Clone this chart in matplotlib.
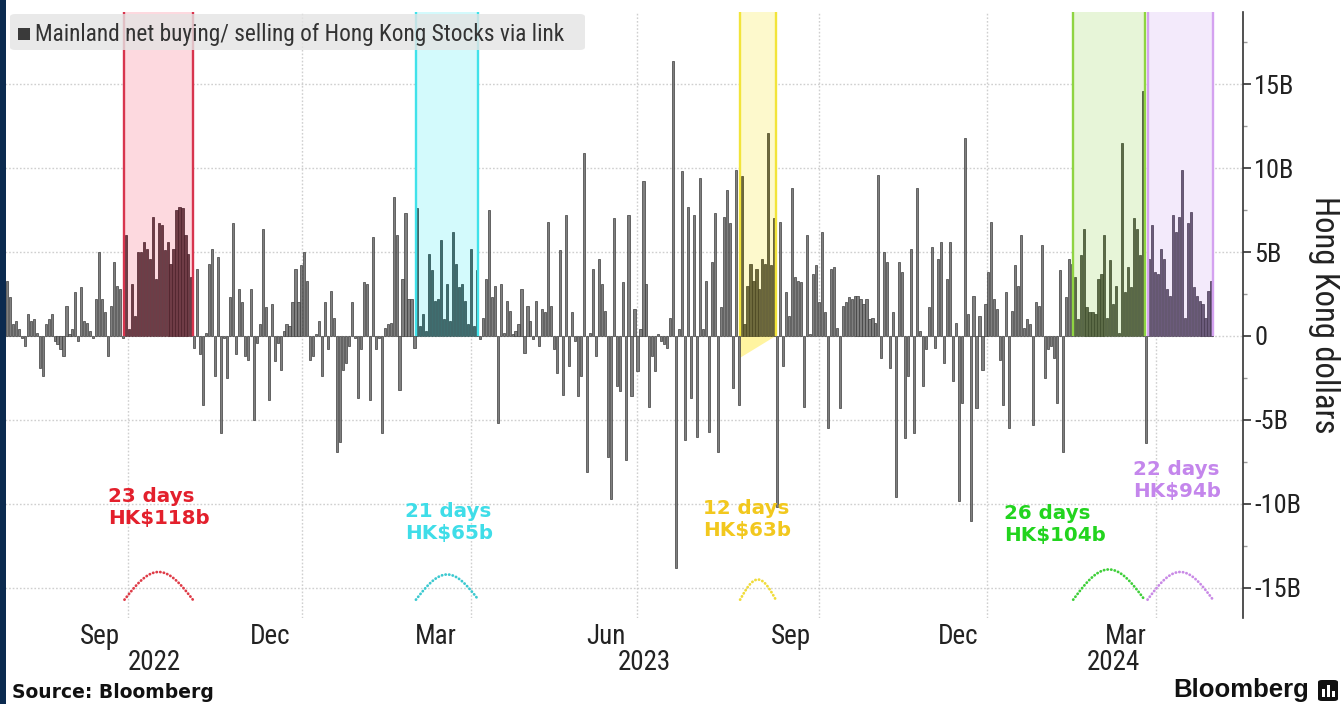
import numpy as np
import matplotlib
matplotlib.use('Agg')
import matplotlib.pyplot as plt
from matplotlib.patches import Rectangle, FancyBboxPatch, Polygon
from matplotlib import transforms

# ---------------- data (HK$ billions, daily net southbound flow) ----------------
seg_a = [3.3, 2.3, 0.7, 0.9, 0.4, -0.1, -0.6, 1.3, 0.9, 1.0, 0.2, -1.9, -2.4, 0.7, 1.0,
         1.3, -0.3, -0.5, -0.8, -1.2, 1.8, 0.1, 0.4, 2.6, -0.3, 2.9, 0.9, 0.8, 0.3, -0.1,
         2.2, 5.0, 2.2, 1.4, -1.2, 1.8, 4.4, 3.0, 2.8, -0.1]
streak_1 = [6.0, 0.4, 3.1, 1.2, 5.0, 5.0, 5.6, 5.2, 4.6, 7.1, 3.4, 6.7, 6.6, 5.1, 5.6,
            4.3, 5.2, 7.5, 7.7, 7.6, 6.0, 4.9, 3.5]
seg_b = [-0.7, 4.0, -1.1, -4.1, 0.2, 4.3, 5.2, -2.4, 4.7, -5.8, -0.1, -2.5, 2.3, 6.7, -1.1,
         2.8, 2.0, -1.2, -1.4, 2.8, -5.0, -0.4, 0.7, 6.4, 1.7, -3.8, 1.9, -1.5, -0.4, -2.0,
         0.3, 0.7, 0.6, 2.0, 4.0, 2.0, 4.2, 5.0, 3.3,
         -1.4, -1.2, 0.1, 0.9, -2.4, 2.0, -0.8, 2.7, 1.1, -6.9, -6.3, -2.0, -1.6, -0.6, 2.0,
         -0.1, -3.7, -0.8, 3.2, 3.1, -3.8, 5.9, -0.8, -0.1, -5.8, 0.5, 0.7, 0.8, 8.3, 6.0,
         -3.2, 3.4, 7.3, 2.2, 2.2, -0.7]
streak_2 = [7.6, 0.6, 1.3, 0.3, 4.9, 3.9, 2.1, 2.2, 5.7, 1.0, 3.1, 0.9, 6.2, 4.3, 2.9,
            3.1, 2.1, 0.7, 5.2, 0.6, 3.9]
seg_c = [-0.2, 1.1, 3.4, 7.5, 2.3, 3.0, -5.2, 3.1, 0.2, 2.1, 1.5, 0.1, 0.3, 0.7, 2.8, -1.0,
         1.8, 0.9, -0.2, 2.1, -0.6, 1.6, 1.4, 6.8, 1.8, -0.8, -2.2, 5.1, -3.5, 7.2, -1.8,
         1.4, -0.3, -3.6, -2.4, 10.9, -8.1, 0.2, 4.0, -1.2, 4.6, 3.1, 1.5, -7.2,
         -9.7, 7.0, -3.0, -3.3, 3.2, -7.4, 7.2, -3.6, 1.6, -2.1, 0.4, 9.2, 3.1, -4.2, -1.2,
         -2.1, 0.1, -0.3, -0.5, -0.7, 1.1, 16.4, -13.8, 0.4, 9.8, -6.2, 7.7, -3.7, 7.2, -6.0,
         9.4, 0.4, 3.3, -5.7, 4.4, 7.3, -6.9, 1.7, 7.1, 8.7, 6.7, -3.1, 9.9, -4.1]
streak_3 = [9.5, 0.7, 3.0, 4.3, 3.3, 4.0, 2.8, 4.6, 4.3, 12.1, 4.2, 7.0]
seg_d = [-10.2, 6.8, -1.8, 2.6, 1.2, 8.8, 3.5, 3.3, 3.2, -4.2, 6.0, 0.1, 3.7, 4.2, 2.0,
         6.2, 1.4, -5.5, 4.0, 4.1, 0.5, -4.3, 1.8, 2.0, 2.3, 2.2, 2.4, 2.4, 2.2, 1.9,
         2.2, 1.0, 1.1, 0.8, 9.6, -1.3, 5.0, 4.4, -1.9, 1.4, -9.6, 4.4, 3.8, -6.1, -2.4,
         5.2, -5.8, 8.8, 0.3, -3.0, -0.8, 1.7, 5.3, -0.7, 4.6, 5.6, -1.6, 3.4, 5.6, -2.7,
         0.8, -9.8, -4.0, 11.8, 1.3, -11.0, 2.4, -4.3, 1.2, -2.0, 1.9, 3.8, 6.8, 2.2, 1.6,
         -1.4, -4.1, 2.6, -5.5, 1.5, 4.2, 3.0, 6.0, 0.5, 1.0, 0.7, -5.3, 2.0, 1.8, 5.4,
         -2.5, -0.8, -0.6, -1.3, -4.0, 3.9, -6.9, 2.3, 4.6, 4.3]
streak_4 = [3.5, 1.0, 4.8, 6.4, 1.7, 1.4, 1.4, 1.3, 3.4, 3.7, 6.0, 1.1, 4.5, 1.9, 3.0,
            0.2, 11.5, 2.6, 4.1, 2.9, 7.0, 6.4, 4.8, 14.6]
seg_e = [-6.4]
streak_5 = [4.6, 6.6, 3.8, 3.7, 5.2, 4.6, 2.8, 2.4, 7.2, 6.2, 7.1, 9.9, 1.1, 6.7, 7.4,
            2.9, 2.4, 2.1, 1.9, 1.1, 2.7, 3.3]

streak_labels = ["23 days\nHK$118b", "21 days\nHK$65b", "12 days\nHK$63b",
                 "26 days\nHK$104b", "22 days\nHK$94b"]

# trading-day index of month label centres / quarter starts
month_labels = ["Sep", "Dec", "Mar", "Jun", "Sep", "Dec", "Mar"]
month_idx = [31.3, 88.4, 144.3, 201.4, 263.6, 319.8, 376.3]
year_labels = ["2022", "2023", "2024"]
year_idx = [49.4, 214.2, 371.9]
quarter_idx = [40.7, 99.2, 156.0, 211.8, 273.0, 329.5, 386.3]

y_ticks = [-15, -10, -5, 0, 5, 10, 15]
y_tick_labels = ["-15B", "-10B", "-5B", "0", "5B", "10B", "15B"]

# ---------------- styling ----------------
W, H = 1341, 704
FONTS = ['Liberation Sans Narrow', 'Roboto Condensed', 'DejaVu Sans']
plt.rcParams['font.family'] = FONTS

band_fill = ['#fdd9df', '#d3fafc', '#fdf9cc', '#e7f5d8', '#f3eafb']
band_edge = ['#d8354e', '#40e2ea', '#f2e43a', '#8fd442', '#d4a2f0']
band_bar_face = ['#6f3c46', '#3f6e70', '#6e6a3c', '#5c6b47', '#6b5b7b']
band_bar_edge = ['#4a1f28', '#234a4c', '#48441f', '#3b4a2a', '#463852']
text_col = ['#e3202c', '#3fdde8', '#f2c81e', '#22d41e', '#c486ec']
arc_col = ['#df3c48', '#3cc9d0', '#f0dc3a', '#3fcf3a', '#c98ae6']
arc_h = [1.65, 1.5, 1.2, 1.8, 1.65]
ann_x = [34.0, 133.8, 234.0, 335.2, 378.6]
ann_y = [-9.0, -9.9, -9.7, -10.0, -7.4]

segments = [seg_a, streak_1, seg_b, streak_2, seg_c, streak_3, seg_d, streak_4, seg_e, streak_5]
values = np.concatenate([np.array(s, dtype=float) for s in segments])
lengths = [len(s) for s in segments]
starts = np.concatenate([[0], np.cumsum(lengths)[:-1]])
streak_ids = [1, 3, 5, 7, 9]
N = len(values)
x = np.arange(N)

face = np.array(['#7f7f7f'] * N, dtype=object)
edge = np.array(['#3d3d3d'] * N, dtype=object)
for k, sid in enumerate(streak_ids):
    s, n = starts[sid], lengths[sid]
    face[s:s + n] = band_bar_face[k]
    edge[s:s + n] = band_bar_edge[k]

YMIN, YMAX = -16.79, 19.29

fig = plt.figure(figsize=(W / 100, H / 100), dpi=100)
fig.patch.set_facecolor('white')
ax = fig.add_axes([5 / W, 1 - 618 / H, (1243 - 5) / W, (618 - 12) / H])
ax.set_xlim(-0.67, 415.6)
ax.set_ylim(YMIN, YMAX)

grid_kw = dict(color='#cfcfcf', lw=1.0, ls=(0, (1.2, 1.4)), zorder=0)
for yt in y_ticks:
    ax.axhline(yt, **grid_kw)
for q in quarter_idx:
    ax.axvline(q, **grid_kw)

# streak bands
for k, sid in enumerate(streak_ids):
    s, n = starts[sid], lengths[sid]
    x0, x1 = s - 0.5, s + n - 0.5
    ax.add_patch(Rectangle((x0, 0), n, YMAX, facecolor=band_fill[k], edgecolor='none', zorder=1))
    if k == 2:
        ax.add_patch(Polygon([(x0, 0), (x0, -1.3), (x1, 0)], closed=True,
                             facecolor='#fff4a0', edgecolor='none', zorder=1))
    for xe in (x0, x1):
        ax.plot([xe, xe], [0, YMAX], color=band_edge[k], lw=1.7, zorder=3, solid_capstyle='butt')
    ax.text(ann_x[k], ann_y[k], streak_labels[k], color=text_col[k], fontsize=14.3,
            fontweight='bold', ha='left', va='top', linespacing=1.2, zorder=4,
            family=['DejaVu Sans'])
    xs = np.linspace(x0, x1, 80)
    ys = -15.7 + arc_h[k] * np.sin(np.pi * (xs - x0) / (x1 - x0))
    ax.plot(xs, ys, color=arc_col[k], lw=2.0, ls=(0, (0.1, 1.2)),
            dash_capstyle='round', zorder=4)

ax.bar(x, values, width=0.72, color=list(face), edgecolor=list(edge), linewidth=0.5, zorder=2)

# axes styling
for sp in ('top', 'left', 'bottom'):
    ax.spines[sp].set_visible(False)
ax.spines['right'].set_color('#333333')
ax.spines['right'].set_linewidth(1.2)
ax.set_xticks([])
ax.yaxis.tick_right()
ax.set_yticks(y_ticks)
ax.set_yticklabels(y_tick_labels)
ax.set_yticks([-12.5, -7.5, -2.5, 2.5, 7.5, 12.5, 17.5], minor=True)
ax.tick_params(axis='y', which='major', length=6, width=1.2, color='#333333',
               labelsize=19, pad=2, labelcolor='#222222')
ax.tick_params(axis='y', which='minor', length=3, width=1.0, color='#999999')

trans = transforms.blended_transform_factory(ax.transData, ax.transAxes)
for i, lab in zip(month_idx, month_labels):
    ax.text(i, -(636 - 618) / 606, lab, transform=trans, ha='center', va='center',
            fontsize=19.5, color='#222222')
for i, lab in zip(year_idx, year_labels):
    ax.text(i, -(663 - 618) / 606, lab, transform=trans, ha='center', va='center',
            fontsize=19.5, color='#222222')

fig.text(1324 / W, 1 - 315 / H, "Hong Kong dollars", rotation=270, ha='center',
         va='center', fontsize=23.5, color='#222222')

# legend box
fig.add_artist(FancyBboxPatch((10 / W, 1 - 50 / H), 575 / W, 36 / H,
                              boxstyle='round,pad=0,rounding_size=0.004',
                              transform=fig.transFigure, facecolor='#e4e4e4',
                              alpha=0.8, edgecolor='none', zorder=5))
fig.add_artist(Rectangle((18 / W, 1 - 40 / H), 12 / W, 12 / H, transform=fig.transFigure,
                         facecolor='#3a3a3a', edgecolor='none', zorder=6))
fig.text(35 / W, 1 - 34 / H, "Mainland net buying/ selling of Hong Kong Stocks via link",
         ha='left', va='center', fontsize=16.8, color='#333333', zorder=7)

# footer
fig.text(12 / W, 1 - 693 / H, "Source: Bloomberg", ha='left', va='center',
         fontsize=13.5, fontweight='bold', color='#111111', family=['DejaVu Sans'])
fig.text(1309 / W, 1 - 690 / H, "Bloomberg", ha='right', va='center',
         fontsize=18.5, fontweight='bold', color='#111111', family=['Liberation Sans', 'DejaVu Sans'])
fig.add_artist(FancyBboxPatch((1318 / W, 1 - 701 / H), 20 / W, 21 / H,
                              boxstyle='round,pad=0,rounding_size=0.003',
                              transform=fig.transFigure, facecolor='#111111',
                              edgecolor='none', zorder=6))
for bx, bh in zip([1322, 1327, 1332], [8, 12, 6]):
    fig.add_artist(Rectangle((bx / W, 1 - 697 / H), 2.5 / W, bh / H, transform=fig.transFigure,
                             facecolor='white', edgecolor='none', zorder=7))

# dark left border
fig.add_artist(Rectangle((0, 0), 6 / W, 1, transform=fig.transFigure,
                         facecolor='#0b2a4f', edgecolor='none', zorder=10))

fig.savefig('out.png', dpi=100)
